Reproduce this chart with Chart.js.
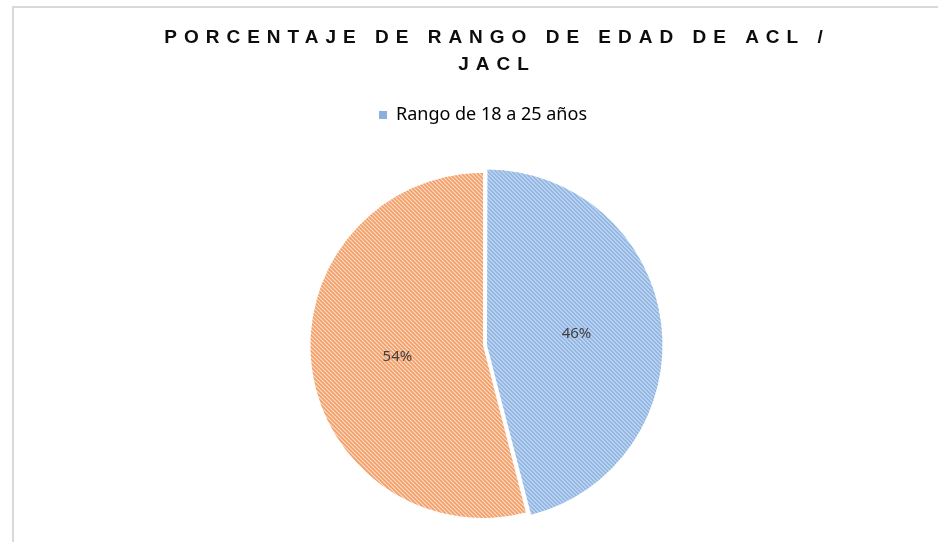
<!DOCTYPE html>
<html>
<head>
<meta charset="utf-8">
<script src="https://cdn.jsdelivr.net/npm/chart.js@4.4.1/dist/chart.umd.min.js"></script>
<style>
html,body{margin:0;padding:0;background:#fff}
#wrap{position:relative;width:938px;height:542px}
#frame{position:absolute;left:12px;top:6px;right:-4px;bottom:-4px;border-top:2px solid #d9d9d9;border-left:2px solid #d9d9d9}
</style>
</head>
<body>
<div id="wrap">
<div id="frame"></div>
<canvas id="c" width="938" height="542"></canvas>
</div>
<script>
const titleLines = ['PORCENTAJE DE RANGO DE EDAD DE ACL /', 'JACL'];
const categories = ['Rango de 18 a 25 años', ''];
const values = [46, 54];
const stripeColors = ['#86afe0', '#f29e66'];
const groundColors = ['#d8e6f6', '#fcdfca'];
const legendColor = '#8cb0dc';

// fine "\" hatching like the Excel pattern fill
function hatch(line, bg) {
  const n = 4
  const cv = document.createElement('canvas')
  cv.width = n; cv.height = n
  const g = cv.getContext('2d')
  g.fillStyle = bg
  g.fillRect(0, 0, n, n)
  g.strokeStyle = line
  g.lineWidth = 1.7
  g.beginPath()
  g.moveTo(-1, -1); g.lineTo(n + 1, n + 1)
  g.moveTo(-1, n - 1); g.lineTo(1, n + 1)
  g.moveTo(n - 1, -1); g.lineTo(n + 1, 1)
  g.stroke()
  return g.createPattern(cv, 'repeat')
}

const tweaks = {
  id: 'tweaks',
  beforeInit(chart) {
    // spaced letters for the title, nudged right like the original
    const drawTitle = chart.titleBlock.draw
    chart.titleBlock.draw = function () {
      chart.ctx.save()
      chart.ctx.letterSpacing = '7px'
      chart.ctx.translate(14, 0)
      drawTitle.call(this)
      chart.ctx.restore()
    }
    // room between legend and pie
    const fit = chart.legend.fit
    chart.legend.fit = function () {
      fit.call(this)
      this.height += 31
    }
  }
}

const pctLabels = {
  id: 'pctLabels',
  afterDatasetsDraw(chart) {
    const ctx = chart.ctx
    const meta = chart.getDatasetMeta(0)
    const total = values.reduce((a, b) => a + b, 0)
    ctx.save()
    ctx.font = '15px "Noto Sans"'
    ctx.fillStyle = '#404040'
    ctx.textAlign = 'center'
    ctx.textBaseline = 'middle'
    meta.data.forEach((arc, i) => {
      const p = arc.tooltipPosition()
      ctx.fillText(Math.round(values[i] / total * 100) + '%', p.x, p.y)
    })
    ctx.restore()
  }
}

new Chart(document.getElementById('c'), {
  type: 'pie',
  data: {
    labels: categories,
    datasets: [{
      data: values,
      backgroundColor: stripeColors.map((c, i) => hatch(c, groundColors[i])),
      borderWidth: 0,
      offset: [16, 0],
      hoverOffset: 0
    }]
  },
  options: {
    responsive: false,
    animation: false,
    layout: { padding: { top: 0, left: 28, right: 0, bottom: 16 } },
    plugins: {
      title: {
        display: true,
        text: titleLines,
        color: '#0d0d0d',
        font: { family: '"Liberation Sans", Arial, sans-serif', size: 19, weight: 'bold', lineHeight: 1.42 },
        padding: { top: 24, bottom: 18 }
      },
      legend: {
        position: 'top',
        labels: {
          color: '#595959',
          font: { family: '"Noto Sans", sans-serif', size: 18 },
          boxWidth: 8,
          boxHeight: 8,
          padding: 10,
          filter: item => item.text !== '',
          generateLabels: chart => [{ text: categories[0], fillStyle: legendColor, strokeStyle: legendColor, lineWidth: 0, index: 0 }]
        }
      },
      tooltip: { enabled: false }
    }
  },
  plugins: [tweaks, pctLabels]
});
</script>
</body>
</html>
